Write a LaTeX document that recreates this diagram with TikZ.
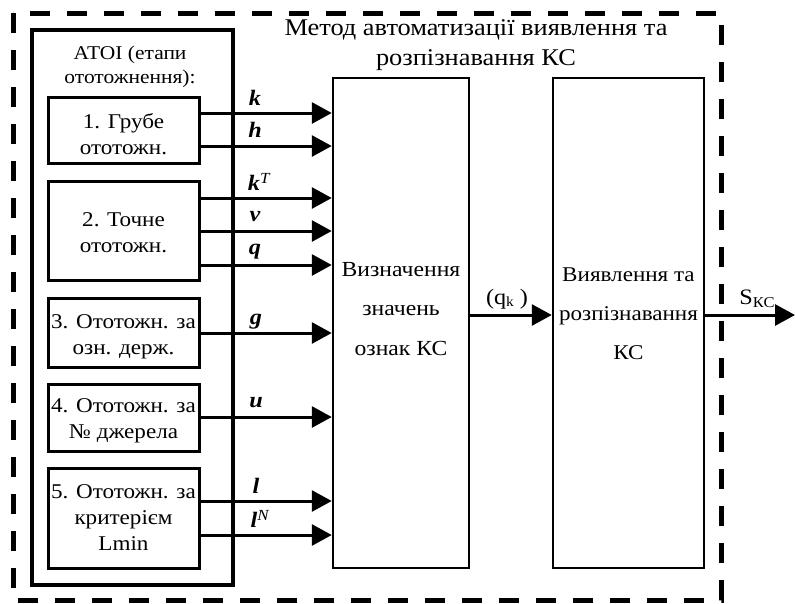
\documentclass[tikz,border=0pt]{standalone}
\usepackage{fontspec}
\setmainfont[FakeStretch=1.1]{Liberation Serif}
\usetikzlibrary{arrows.meta}
\tikzset{
  bx/.style={draw, line width=3pt, inner sep=0pt, minimum width=151pt},
  bigbx/.style={draw, line width=2.5pt, inner sep=0pt, minimum width=136pt, minimum height=490pt},
  arr/.style={line width=3pt, -{Triangle[length=20pt,width=21pt]}},
  lab/.style={inner sep=0pt, font=\fontsize{22}{22}\selectfont\bfseries\itshape},
  txt/.style={inner sep=0pt, align=center, font=\fontsize{21}{26}\selectfont},
  atxt/.style={inner sep=0pt, align=center, font=\fontsize{19.5}{24}\selectfont},
  midtxt/.style={inner sep=0pt, align=center, font=\fontsize{21.5}{39.5}\selectfont},
  rtxt/.style={inner sep=0pt, align=center, font=\fontsize{21}{39}\selectfont},
  ttl/.style={inner sep=0pt, align=center, font=\fontsize{24}{30}\selectfont},
  qlab/.style={inner sep=0pt, font=\fontsize{22}{22}\selectfont},
}
\newcommand{\supit}[1]{\textsuperscript{\mdseries\itshape #1}}
\begin{document}
\begin{tikzpicture}[x=1pt,y=-1pt]
\useasboundingbox (0,0) rectangle (795,603);
% outer dashed frame
\draw[line width=5pt, dash pattern=on 20pt off 17pt] (13,13) rectangle (721,600);
% title
\node[ttl] (title) at (476,45) {Метод автоматизації виявлення та\\розпізнавання КС};
% ATOI container
\draw[line width=3.5pt] (32,30) rectangle (233,585);
\node[atxt] (atoi) at (130,67) {АТОІ (етапи\\ототожнення):};
% stage boxes
\node[bx, minimum height=66pt] (b1) at (123.5,130) {};
\node[txt] at (123.5,134) {1. Грубе\\ототожн.};
\node[bx, minimum height=99pt] (b2) at (123.5,230.5) {};
\node[txt] at (123.5,232.5) {2. Точне\\ототожн.};
\node[bx, minimum height=69pt] (b3) at (123.5,332.5) {};
\node[txt] at (123.5,336.5) {3. Ототожн. за\\озн. держ.};
\node[bx, minimum height=67pt] (b4) at (123.5,417.5) {};
\node[txt] at (123.5,420.5) {4. Ототожн. за\\№ джерела};
\node[bx, minimum height=100pt] (b5) at (123.5,518) {};
\node[txt] at (123.5,518) {5. Ототожн. за\\критерієм\\Lmin};
% middle and right boxes
\node[bigbx] (mid) at (401,323) {};
\node[midtxt] at (401,309) {Визначення\\значень\\ознак КС};
\node[bigbx, minimum width=151pt] (rb) at (628.5,323) {};
\node[rtxt] at (628.5,314) {Виявлення та\\розпізнавання\\КС};
% arrow levels
\coordinate (yk) at (0,113);
\coordinate (yh) at (0,146);
\coordinate (ykt) at (0,198);
\coordinate (yv) at (0,231);
\coordinate (yq) at (0,265);
\coordinate (yg) at (0,333);
\coordinate (yu) at (0,417);
\coordinate (yl) at (0,501);
\coordinate (yln) at (0,535);
\draw[arr] (b1.east |- yk) -- (mid.west |- yk);
\draw[arr] (b1.east |- yh) -- (mid.west |- yh);
\draw[arr] (b2.east |- ykt) -- (mid.west |- ykt);
\draw[arr] (b2.east |- yv) -- (mid.west |- yv);
\draw[arr] (b2.east |- yq) -- (mid.west |- yq);
\draw[arr] (b3.east |- yg) -- (mid.west |- yg);
\draw[arr] (b4.east |- yu) -- (mid.west |- yu);
\draw[arr] (b5.east |- yl) -- (mid.west |- yl);
\draw[arr] (b5.east |- yln) -- (mid.west |- yln);
% labels
\node[lab] (lk) at (255,98) {k};
\node[lab] (lh) at (255,130) {h};
\node[lab] (lkt) at (259,182) {k\supit{T}};
\node[lab] (lv) at (255,217) {v};
\node[lab] (lq) at (255,252) {q};
\node[lab] (lg) at (256,322) {g};
\node[lab] (lu) at (256,403) {u};
\node[lab] (ll) at (256,486) {l};
\node[lab] (lln) at (260,519) {l\supit{N}};
% q_k arrow
\coordinate (yqk) at (0,315);
\draw[arr] (mid.east |- yqk) -- (rb.west |- yqk);
\node[qlab] (lqk) at (507,299) {(q\raisebox{-2pt}{\fontsize{14}{14}\selectfont k} )};
% output arrow
\coordinate (out) at (795,315);
\draw[arr] (rb.east |- out) -- (out);
\node[qlab] (lskc) at (757,299) {S\raisebox{-3pt}{\fontsize{15}{15}\selectfont КС}};
\end{tikzpicture}
\end{document}
